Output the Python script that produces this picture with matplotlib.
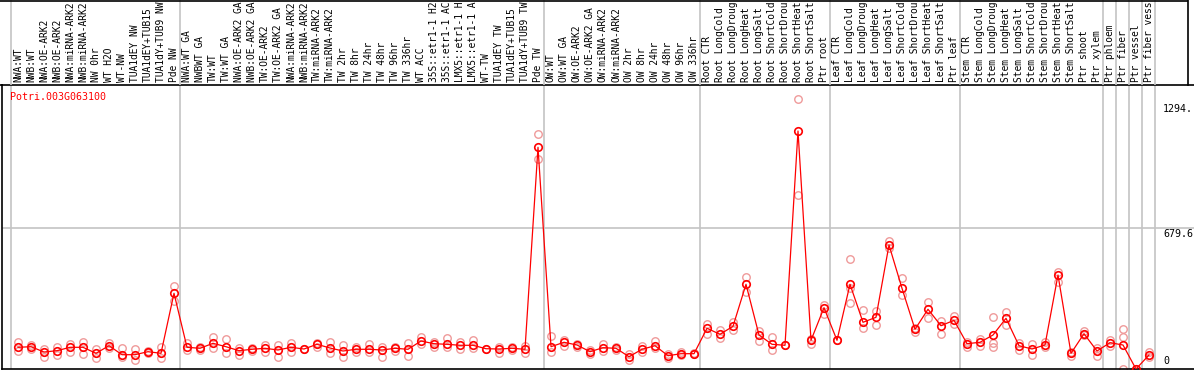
import matplotlib
matplotlib.use("Agg")
import matplotlib.pyplot as plt
from matplotlib.lines import Line2D
import matplotlib.transforms as mtransforms

gene = "Potri.003G063100"

samples = [
    "NWA:WT", "NWB:WT", "NWA:OE-ARK2", "NWB:OE-ARK2", "NWA:miRNA-ARK2", "NWB:miRNA-ARK2",
    "NW 0hr", "WT H2O", "WT-NW", "TUA1dEY NW", "TUA1dEY+TUB15", "TUA1dY+TUB9 NW", "Pde NW",
    "NWA:WT GA", "NWBWT GA", "TW:WT", "TW:WT GA", "NWA:OE-ARK2 GA", "NWB:OE-ARK2 GA",
    "TW:OE-ARK2", "TW:OE-ARK2 GA", "NWA:miRNA-ARK2", "NWB:miRNA-ARK2", "TW:miRNA-ARK2",
    "TW:miRNA-ARK2", "TW 2hr", "TW 8hr", "TW 24hr", "TW 48hr", "TW 96hr", "TW 336hr",
    "WT ACC", "35S::etr1-1 H2", "35S::etr1-1 AC", "LMX5::etr1-1 H", "LMX5::etr1-1 A",
    "WT-TW", "TUA1dEY TW", "TUA1dEY+TUB15", "TUA1dY+TUB9 TW", "Pde TW",
    "OW:WT", "OW:WT GA", "OW:OE-ARK2", "OW:OE-ARK2 GA", "OW:miRNA-ARK2", "OW:miRNA-ARK2",
    "OW 2hr", "OW 8hr", "OW 24hr", "OW 48hr", "OW 96hr", "OW 336hr",
    "Root CTR", "Root LongCold", "Root LongDroug", "Root LongHeat", "Root LongSalt",
    "Root ShortCold", "Root ShortDrou", "Root ShortHeat", "Root ShortSalt", "Ptr root",
    "Leaf CTR", "Leaf LongCold", "Leaf LongDroug", "Leaf LongHeat", "Leaf LongSalt",
    "Leaf ShortCold", "Leaf ShortDrou", "Leaf ShortHeat", "Leaf ShortSalt", "Ptr leaf",
    "Stem CTR", "Stem LongCold", "Stem LongDroug", "Stem LongHeat", "Stem LongSalt",
    "Stem ShortCold", "Stem ShortDrou", "Stem ShortHeat", "Stem ShortSalt", "Ptr shoot",
    "Ptr xylem", "Ptr phloem", "Ptr fiber", "Ptr vessel", "Ptr fiber vess",
]

# group boundaries (sample index where a new group starts)
group_bounds = [0, 13, 41, 53, 63, 73, 84, 85, 86, 87, 88]

means = [
    104.8, 107.7, 82.1, 88.4, 104.8, 104.8, 75.8, 112.5, 69.1, 69.1, 83.6, 75.8, 365.6,
    104.8, 100.0, 124.1, 107.7, 88.4, 95.2, 100.0, 91.8, 104.8, 96.6, 119.3, 101.4, 86.9,
    95.2, 95.2, 91.8, 100.0, 95.2, 135.2, 122.2, 119.3, 114.5, 114.5, 98.0, 96.6, 100.0,
    95.2, 1070.8,
    107.7, 129.0, 115.9, 83.6, 102.9, 100.0, 59.4, 95.2, 112.5, 64.2, 73.9, 73.9,
    196.6, 167.6, 206.2, 409.1, 164.2, 119.3, 114.5, 1149.5, 138.6, 296.1,
    138.6, 409.1, 225.6, 249.7, 598.9, 389.8, 191.8, 288.4, 209.1, 235.2,
    122.2, 129.0, 164.2, 244.9, 112.5, 96.6, 115.9, 454.0, 75.8, 170.5, 86.9,
    127.0, 115.9, 0.0, 67.6,
]

replicates = [
    [129.0, 88.4], [114.5, 95.2], [95.2, 59.4], [107.7, 67.6], [120.8, 83.6], [131.9, 72.5],
    [95.2, 51.7], [124.1, 100.0], [100.0, 56.5], [98.0, 43.5], [88.4, 78.7], [107.7, 54.6],
    [400.9, 329.9],
    [124.1, 91.8], [104.8, 91.8], [153.1, 100.0], [143.5, 78.7], [100.0, 67.6], [100.0, 88.4],
    [115.9, 83.6], [115.9, 59.4], [124.1, 83.6], [96.6], [124.1, 107.7], [131.9, 75.8],
    [115.9, 56.5], [107.7, 83.6], [119.3, 83.6], [104.8, 59.4], [107.7, 86.9], [127.0, 62.8],
    [153.1, 120.8], [131.9, 107.7], [148.3, 104.8], [131.9, 95.2], [140.1, 100.0], [95.2],
    [107.7, 78.7], [104.8, 91.8], [111.1, 78.7], [1133.6, 1012.9],
    [160.8, 83.6], [140.1, 112.5], [119.3, 107.7], [91.8, 71.0], [119.3, 86.9], [107.7, 91.8],
    [71.0, 43.5], [112.5, 80.7], [135.2, 102.9], [71.0, 54.6], [83.6, 67.6], [75.8, 71.0],
    [215.9, 167.6], [188.4, 148.3], [228.5, 188.4], [444.4, 370.5], [183.5, 135.2],
    [153.1, 91.8], [115.9], [1304.1, 840.4], [144.9, 122.2], [309.1, 267.1],
    [138.6], [531.3, 317.3, 389.8], [283.5, 196.6], [280.1, 212.5], [619.7, 585.9],
    [441.0, 357.4], [199.5, 180.2], [322.2, 247.8], [231.8, 167.6], [257.4, 215.9],
    [131.9, 107.7], [144.9, 112.5], [251.2, 124.1, 107.7], [276.8, 212.5], [124.1, 91.8],
    [119.3, 67.6], [131.9, 107.7], [470.0, 421.7], [83.6, 64.2], [183.5, 164.2], [100.0, 64.2],
    [140.1, 112.5], [193.2, 153.1, 0.0], [0.0], [80.7, 59.4],
]

tick_values = [0, 679.6, 1294]
tick_labels = ["0", "679.6", "1294."]

# ---------------- layout (pixel based) ----------------
W, H = 1194, 370
fig = plt.figure(figsize=(W / 100, H / 100), dpi=100)
mono = "DejaVu Sans Mono"
RED = "#ff0000"
PINK = "#ef9a9a"
GRID = "#c4c4c4"

def px2x(px):
    return (px - 18.0) / 13.0

plot_top, plot_bot = 85, 369
ax = fig.add_axes([2 / W, (H - plot_bot) / H, (W - 2) / W, (plot_bot - plot_top) / H])
lab = fig.add_axes([0, (H - plot_top) / H, 1, plot_top / H])

ymax = (plot_bot - plot_top) * 4.83
ax.set_xlim(px2x(2), px2x(W))
ax.set_ylim(0, ymax)
lab.set_xlim(px2x(0), px2x(W))
lab.set_ylim(0, 1)
lab.axis("off")

ax.spines["right"].set_visible(False)
for s in ["left", "top", "bottom"]:
    ax.spines[s].set_color("black")
    ax.spines[s].set_linewidth(1.2)
ax.set_xticks([])
ax.set_yticks([])

# separators
for b in group_bounds:
    xb = b - 7.0 / 13.0
    ax.axvline(xb, color=GRID, lw=1.2, zorder=0)
    lab.axvline(xb, color=GRID, lw=1.2, zorder=0)

# horizontal grid at middle tick
ax.axhline(tick_values[1], color=GRID, lw=1.2, zorder=0)

# label region frame
fig.add_artist(Line2D([0, 1187 / W], [1 - 0.6 / H, 1 - 0.6 / H], color="black", lw=1.2))
fig.add_artist(Line2D([1187.5 / W, 1187.5 / W], [(H - plot_top) / H, 1], color="black", lw=1.2))
fig.add_artist(Line2D([0, 2 / W], [(H - plot_top) / H, (H - plot_top) / H], color="black", lw=1.2))

# sample labels
tr = mtransforms.blended_transform_factory(lab.transData, lab.transAxes)
for i, name in enumerate(samples):
    lab.text(i, 2.5 / plot_top, name, rotation=90, ha="center", va="bottom",
             fontsize=6.9, family=mono, transform=tr, clip_on=True)

# data
xs = list(range(len(samples)))
for i, reps in enumerate(replicates):
    ax.plot([i] * len(reps), reps, linestyle="none", marker="o", markersize=5.4,
            markerfacecolor="none", markeredgecolor=PINK, markeredgewidth=1.0, zorder=2)
ax.plot(xs, means, color=RED, lw=0.9, zorder=3)
ax.plot(xs, means, linestyle="none", marker="o", markersize=5.4, markerfacecolor="none",
        markeredgecolor=RED, markeredgewidth=1.2, zorder=4)

# gene name
ax.text(px2x(10), ymax - (97 - plot_top) * 4.83, gene, color=RED, fontsize=7.2,
        family=mono, ha="left", va="center")

# y tick labels on the right
xt = px2x(1163)
ax.text(xt, tick_values[2], tick_labels[2], fontsize=7.2, family=mono, ha="left", va="top",
        transform=ax.transData + mtransforms.ScaledTranslation(0, -3 / 100, fig.dpi_scale_trans))
ax.text(xt, tick_values[1], tick_labels[1], fontsize=7.2, family=mono, ha="left", va="top",
        transform=ax.transData + mtransforms.ScaledTranslation(0, -1 / 100, fig.dpi_scale_trans))
ax.text(xt, tick_values[0], tick_labels[0], fontsize=7.2, family=mono, ha="left", va="bottom",
        transform=ax.transData + mtransforms.ScaledTranslation(0, 3 / 100, fig.dpi_scale_trans))

fig.savefig("out.png", dpi=100)
